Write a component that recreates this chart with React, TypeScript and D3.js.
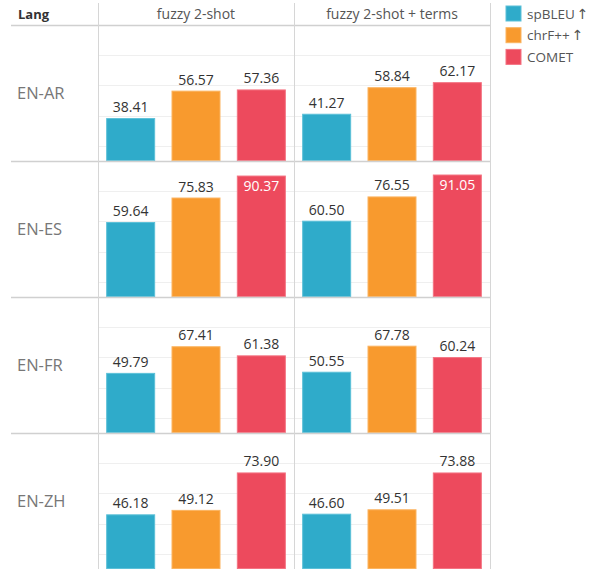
import React, { useEffect, useRef } from 'react';
import * as d3 from 'd3';

// Data
const langs = ['EN-AR', 'EN-ES', 'EN-FR', 'EN-ZH'];
const settings = ['fuzzy 2-shot', 'fuzzy 2-shot + terms'];
const metrics = ['spBLEU ↑', 'chrF++ ↑', 'COMET'];
const spBLEU2shot = [38.41, 59.64, 49.79, 46.18];
const spBLEUTerms = [41.27, 60.5, 50.55, 46.6];
const chrF2shot = [56.57, 75.83, 67.41, 49.12];
const chrFTerms = [58.84, 76.55, 67.78, 49.51];
const comet2shot = [57.36, 90.37, 61.38, 73.9];
const cometTerms = [62.17, 91.05, 60.24, 73.88];
const gridTicks = [20, 40, 60, 80];

const colors = ['#2fabca', '#f89a2e', '#ed4a5d'];
const strokes = ['#5cc0d8', '#fbb460', '#f47382'];

const App = () => {
  const ref = useRef<SVGSVGElement>(null);

  useEffect(() => {
    const width = 593;
    const height = 569;
    const headerH = 25;
    const left = 98;
    const right = 490;
    const font = '"Open Sans", "Noto Sans", sans-serif';

    const values: Record<string, number[][]> = {
      'fuzzy 2-shot': [spBLEU2shot, chrF2shot, comet2shot],
      'fuzzy 2-shot + terms': [spBLEUTerms, chrFTerms, cometTerms]
    };

    const svg = d3.select(ref.current);
    svg.selectAll('*').remove();
    svg.attr('width', width).attr('height', height);

    const row = d3.scaleBand().domain(langs).range([headerH, height]);
    const col = d3.scaleBand().domain(settings).range([left, right]);
    const x = d3.scaleBand().domain(metrics).range([0, col.bandwidth()])
      .paddingInner(0.25).paddingOuter(0.125);

    // gridlines
    langs.forEach(lang => {
      const top = row(lang)!;
      const y = d3.scaleLinear().domain([10, 100]).range([top + row.bandwidth(), top]);
      svg.append('g')
        .selectAll('line')
        .data(gridTicks)
        .enter()
        .append('line')
        .attr('x1', left)
        .attr('x2', right)
        .attr('y1', d => Math.round(y(d)) + 0.5)
        .attr('y2', d => Math.round(y(d)) + 0.5)
        .attr('stroke', '#efefef')
        .attr('stroke-width', 1);
    });

    // bars + labels
    langs.forEach((lang, li) => {
      const top = row(lang)!;
      const y = d3.scaleLinear().domain([10, 100]).range([top + row.bandwidth(), top]);
      settings.forEach(s => {
        const g = svg.append('g').attr('transform', `translate(${col(s)},0)`);
        metrics.forEach((m, mi) => {
          const v = values[s][mi][li];
          g.append('rect')
            .attr('x', x(m)! + 0.5)
            .attr('y', y(v) + 0.5)
            .attr('width', x.bandwidth() - 1)
            .attr('height', y(10) - y(v) - 1)
            .attr('fill', colors[mi])
            .attr('stroke', strokes[mi])
            .attr('stroke-width', 1);
          const inside = y(v) - top < 20;
          g.append('text')
            .attr('x', x(m)! + x.bandwidth() / 2)
            .attr('y', inside ? y(v) + 15 : y(v) - 6)
            .attr('text-anchor', 'middle')
            .attr('font-family', font)
            .attr('font-size', '14px')
            .attr('fill', inside ? '#ffffff' : '#333333')
            .text(v.toFixed(2));
        });
      });
    });

    // row separators
    svg.append('g')
      .selectAll('line')
      .data(langs)
      .enter()
      .append('line')
      .attr('x1', 11)
      .attr('x2', right)
      .attr('y1', d => row(d)! + 0.5)
      .attr('y2', d => row(d)! + 0.5)
      .attr('stroke', '#d0d0d0')
      .attr('stroke-width', 1.5);

    // vertical dividers
    svg.append('g')
      .selectAll('line')
      .data([left, col(settings[1])!, right])
      .enter()
      .append('line')
      .attr('x1', d => d + 0.5)
      .attr('x2', d => d + 0.5)
      .attr('y1', 3)
      .attr('y2', height)
      .attr('stroke', '#d6d6d6')
      .attr('stroke-width', 1);

    // row labels
    svg.append('g')
      .selectAll('text')
      .data(langs)
      .enter()
      .append('text')
      .attr('x', 17)
      .attr('y', d => row(d)! + row.bandwidth() / 2 + 6)
      .attr('font-family', font)
      .attr('font-size', '16.5px')
      .attr('fill', '#777777')
      .text(d => d);

    // header
    svg.append('text')
      .attr('x', 18)
      .attr('y', 19)
      .attr('font-family', font)
      .attr('font-size', '13px')
      .attr('font-weight', 'bold')
      .attr('fill', '#333333')
      .text('Lang');

    svg.append('g')
      .selectAll('text')
      .data(settings)
      .enter()
      .append('text')
      .attr('x', d => col(d)! + col.bandwidth() / 2)
      .attr('y', 19)
      .attr('text-anchor', 'middle')
      .attr('font-family', font)
      .attr('font-size', '14px')
      .attr('fill', '#555555')
      .text(d => d);

    // legend
    const legend = svg.append('g').attr('transform', 'translate(506,6)');
    metrics.forEach((m, i) => {
      legend.append('rect')
        .attr('x', 0)
        .attr('y', i * 21.7)
        .attr('width', 15)
        .attr('height', 15)
        .attr('fill', colors[i])
        .attr('stroke', strokes[i]);
      const t = legend.append('text')
        .attr('x', 21)
        .attr('y', i * 21.7 + 12.5)
        .attr('font-family', font)
        .attr('font-size', '13.5px')
        .attr('fill', '#555555');
      const parts = m.split(' ');
      t.append('tspan').text(parts[0]);
      if (parts[1]) {
        t.append('tspan')
          .attr('dx', 2)
          .attr('font-family', '"DejaVu Sans", sans-serif')
          .attr('font-size', '14px')
          .text(parts[1]);
      }
    });
  }, []);

  return (
    <svg ref={ref} style={{ position: 'absolute', left: 0, top: 0, background: '#fff' }}></svg>
  );
};

export default App;
